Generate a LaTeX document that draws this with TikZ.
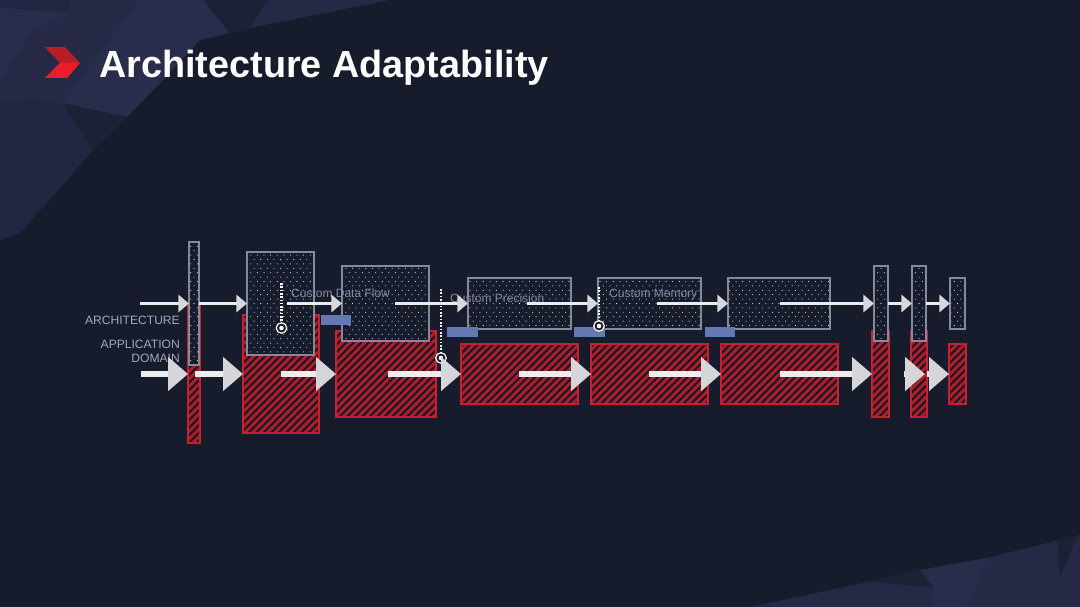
\documentclass[tikz,border=0pt]{standalone}
\usepackage{fontspec}
\setmainfont{Liberation Sans}
\usetikzlibrary{arrows.meta}
\definecolor{bgc}{HTML}{171C2D}
\definecolor{facetA}{HTML}{252946}
\definecolor{facetB}{HTML}{292D4C}
\definecolor{facetC}{HTML}{222643}
\definecolor{facetD}{HTML}{1D2136}
\definecolor{redL}{HTML}{C8202E}
\definecolor{hatchR}{HTML}{A81E2C}
\definecolor{hatchD}{HTML}{1A1622}
\definecolor{frame}{HTML}{858A9A}
\definecolor{barc}{HTML}{6478B4}
\definecolor{labc}{HTML}{A4A8B8}
\definecolor{inlab}{HTML}{8489A0}
\definecolor{arrT}{HTML}{ECECEE}
\definecolor{arrTh}{HTML}{D8D8DC}
\definecolor{arrB}{HTML}{EDEDEF}
\definecolor{arrBh}{HTML}{D6D6DA}
\definecolor{logoT}{HTML}{B81E26}
\definecolor{logoB}{HTML}{ED1C2A}
\newcommand{\dotpat}[2]{%
  \pgfmathtruncatemacro{\nx}{#1/13.2+1}\pgfmathtruncatemacro{\ny}{#2/8.8+1}%
  \foreach \j in {-\ny,...,\ny}{%
    \pgfmathtruncatemacro{\odd}{mod(abs(\j),2)}%
    \foreach \i in {-\nx,...,\nx}{%
      \fill[white!88!bgc] ([shift={(\i*6.6+\odd*3.3,\j*4.4)}]path picture bounding box.center) circle (.55);
    }}}
\newcommand{\hatchpat}[2]{%
  \pgfmathtruncatemacro{\nk}{(#1+#2)/2/7.5+1}%
  \foreach \k in {-\nk,...,\nk}{%
    \draw[hatchR,line width=3] ([shift={(\k*7.5-70,70)}]path picture bounding box.center) -- ([shift={(\k*7.5+70,-70)}]path picture bounding box.center);
  }}
\tikzset{
  darkbox/.style 2 args={draw=frame,line width=1.9,fill=bgc,inner sep=0,outer sep=0,minimum width=#1-1.9,minimum height=#2-1.9,path picture={\dotpat{#1}{#2}}},
  redbox/.style 2 args={draw=redL,line width=2,fill=hatchD,inner sep=0,outer sep=0,minimum width=#1-2,minimum height=#2-2,path picture={\hatchpat{#1}{#2}}},
  barbox/.style={fill=barc,inner sep=0,outer sep=0,minimum width=30.5,minimum height=10},
  toparrow/.style={draw=arrT,line width=3.6,-{Triangle[length=10.5,width=17,fill=arrTh,color=arrTh]}},
  botarrow/.style={draw=arrB,line width=6,-{Triangle[length=20,width=33,fill=arrBh,color=arrBh]}},
  rowlab/.style={text=labc,font=\fontsize{12.1}{14}\selectfont,inner sep=0,align=right},
  inlabel/.style={text=inlab,font=\fontsize{12}{14}\selectfont,inner sep=0,anchor=base west},
  dotline/.style={draw=white,line width=2.4,dash pattern=on 1.6 off 1.7},
  ringout/.style={circle,draw=white,line width=1.2,fill=bgc,inner sep=0,minimum size=10.5},
  ringin/.style={circle,fill=white,inner sep=0,minimum size=4.6},
}
\begin{document}
\begin{tikzpicture}[x=1pt,y=-1pt]
\useasboundingbox (0,0) rectangle (1080,607);
\fill[bgc] (0,0) rectangle (1080,607);
% top-left facets
\fill[facetA] (0,0)--(390,0)--(250,28)--(200,40)--(160,83)--(93,150)--(20,233)--(0,240)--cycle;
\fill[facetC] (0,0)--(70,0)--(68,13)--(0,8)--cycle;
\fill[facetB] (0,8)--(68,13)--(33,30)--(0,80)--cycle;
\fill[facetB] (140,0)--(203,0)--(230,33)--(200,40)--(160,83)--(127,117)--(63,103)--(95,60)--cycle;
\fill[facetD] (203,0)--(267,0)--(250,28)--(230,33)--cycle;
\fill[facetC] (0,100)--(63,103)--(93,150)--(20,233)--(0,240)--cycle;
\fill[facetD] (63,103)--(127,117)--(107,137)--(93,150)--cycle;
% bottom-right facets
\fill[facetA] (1080,535)--(987,558)--(920,570)--(867,582)--(760,605)--(750,607)--(1080,607)--cycle;
\fill[facetB] (920,570)--(987,558)--(967,607)--(933,607)--(933,587)--cycle;
\fill[facetD] (867,582)--(920,570)--(933,587)--cycle;
\fill[facetD] (1057,541)--(1077,536)--(1060,578)--cycle;
% logo
\fill[logoT] (45,47)--(65,47)--(80,63)--(60,63)--cycle;
\fill[logoB] (60,63)--(80,63)--(67,78)--(45,78)--cycle;
% title
\node[text=white,font=\bfseries\fontsize{37.8}{40}\selectfont,inner sep=0,anchor=base west] (title) at (99,77.7) {Architecture Adaptability};
% red boxes
\node[redbox={14}{140}] (r1) at (194,374) {};
\node[redbox={78}{120}] (r2) at (281,374) {};
\node[redbox={102}{88}] (r3) at (386,374) {};
\node[redbox={119}{62}] (r4) at (519.5,374) {};
\node[redbox={119}{62}] (r5) at (649.5,374) {};
\node[redbox={119}{62}] (r6) at (779.5,374) {};
\node[redbox={19}{88}] (r7) at (880.5,374) {};
\node[redbox={18}{88}] (r8) at (919,374) {};
\node[redbox={19}{62}] (r9) at (957.5,374) {};
% dark boxes
\node[darkbox={12}{125}] (b1) at (194,303.5) {};
\node[darkbox={69}{105}] (b2) at (280.5,303.5) {};
\node[darkbox={89}{77}] (b3) at (385.5,303.5) {};
\node[darkbox={105}{53}] (b4) at (519.5,303.5) {};
\node[darkbox={105}{53}] (b5) at (649.5,303.5) {};
\node[darkbox={104}{53}] (b6) at (779,303.5) {};
\node[darkbox={16}{77}] (b7) at (881,303.5) {};
\node[darkbox={16}{77}] (b8) at (919,303.5) {};
\node[darkbox={17}{53}] (b9) at (957.5,303.5) {};
% blue bars
\node[barbox] (bar1) at (336,320) {};
\node[barbox] (bar2) at (462.5,332) {};
\node[barbox] (bar3) at (589.5,332) {};
\node[barbox] (bar4) at (720,332) {};
% labels
\node[rowlab,anchor=base east] (larch) at (180,324) {ARCHITECTURE};
\node[rowlab,anchor=base east] (lapp) at (180,348) {APPLICATION};
\node[rowlab,anchor=base east] (ldom) at (180,362.5) {DOMAIN};
\node[inlabel] (l1) at (291,298) {Custom Data Flow};
\node[inlabel] (l2) at (450,302) {Custom Precision};
\node[inlabel] (l3) at (609,297) {Custom Memory};
% dotted lines and markers
\coordinate (d1) at (281.5,283);
\coordinate (d2) at (441,289);
\coordinate (d3) at (599,287);
\node[ringout] (c1) at (281.5,328) {};
\node[ringout] (c2) at (441,358) {};
\node[ringout] (c3) at (599,326) {};
\draw[dotline] (d1) -- (c1);
\draw[dotline] (d2) -- (c2);
\draw[dotline] (d3) -- (c3);
\node[ringin] (c1i) at (c1) {};
\node[ringin] (c2i) at (c2) {};
\node[ringin] (c3i) at (c3) {};
% top arrows
\coordinate (ts1) at (140,303.5);
\coordinate (ts3) at (287,303.5);
\coordinate (ts4) at (395,303.5);
\coordinate (ts5) at (527,303.5);
\coordinate (ts6) at (657,303.5);
\coordinate (ts7) at (780,303.5);
\draw[toparrow] (ts1) -- (b1.west);
\draw[toparrow] (b1.east) -- (b2.west);
\draw[toparrow] (ts3) -- (b3.west);
\draw[toparrow] (ts4) -- (b4.west);
\draw[toparrow] (ts5) -- (b5.west);
\draw[toparrow] (ts6) -- (b6.west);
\draw[toparrow] (ts7) -- (b7.west);
\draw[toparrow] (b7.east) -- (b8.west);
\draw[toparrow] (b8.east) -- (b9.west);
% bottom arrows
\coordinate (bs1) at (141,374);
\coordinate (bs2) at (195,374);
\coordinate (bs3) at (281,374);
\coordinate (bs4) at (388,374);
\coordinate (bs5) at (519,374);
\coordinate (bs6) at (649,374);
\coordinate (bs7) at (780,374);
\coordinate (bs8) at (904,374);
\coordinate (be8) at (925,374);
\coordinate (bs9) at (927,374);
\draw[botarrow] (bs1) -- (r1.west);
\draw[botarrow] (bs2) -- (r2.west);
\draw[botarrow] (bs3) -- (r3.west);
\draw[botarrow] (bs4) -- (r4.west);
\draw[botarrow] (bs5) -- (r5.west);
\draw[botarrow] (bs6) -- (r6.west);
\draw[botarrow] (bs7) -- (r7.west);
\draw[botarrow] (bs8) -- (be8);
\draw[botarrow] (bs9) -- (r9.west);
\end{tikzpicture}
\end{document}
